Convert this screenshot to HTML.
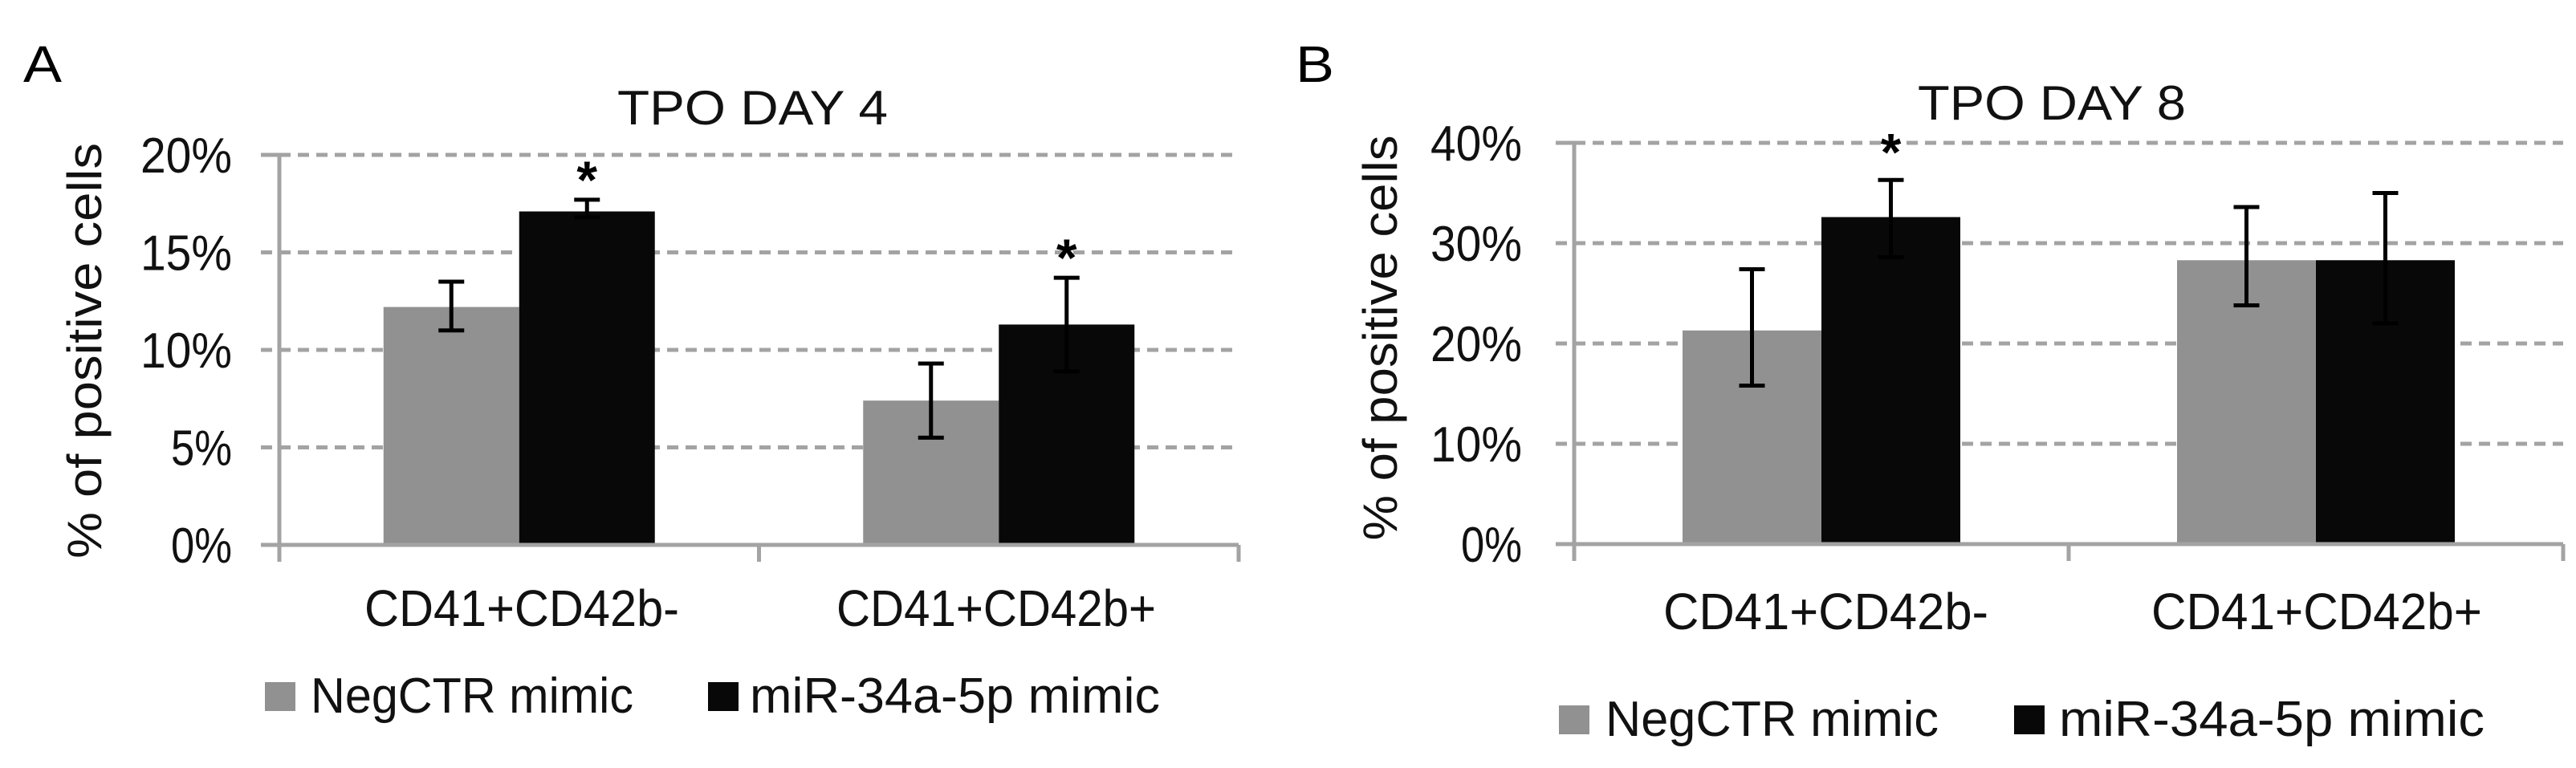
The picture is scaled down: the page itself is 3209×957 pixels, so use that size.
<!DOCTYPE html>
<html><head><meta charset="utf-8"><style>
html,body{margin:0;padding:0;background:#fff;}
svg{display:block;font-family:"Liberation Sans",sans-serif;}
</style></head><body>
<svg id="fig" width="3209" height="957" viewBox="0 0 3209 957" xmlns="http://www.w3.org/2000/svg">
<rect width="3209" height="957" fill="#fff"/>
</svg>
<script>
// Panel A data
const categories = ["CD41+CD42b-", "CD41+CD42b+"];
const seriesNames = ["NegCTR mimic", "miR-34a-5p mimic"];
const dayA_neg = [12.2, 7.4];
const dayA_neg_lo = [11.0, 5.5];
const dayA_neg_hi = [13.5, 9.3];
const dayA_mir = [17.1, 11.3];
const dayA_mir_lo = [16.8, 8.9];
const dayA_mir_hi = [17.7, 13.7];
const dayA_ticks = [0, 5, 10, 15, 20];
const dayA_tickLabels = ["0%", "5%", "10%", "15%", "20%"];
const dayA_sig = [true, true];
// Panel B data
const dayB_neg = [21.3, 28.3];
const dayB_neg_lo = [15.8, 23.8];
const dayB_neg_hi = [27.4, 33.6];
const dayB_mir = [32.6, 28.3];
const dayB_mir_lo = [28.6, 22.0];
const dayB_mir_hi = [36.3, 35.0];
const dayB_ticks = [0, 10, 20, 30, 40];
const dayB_tickLabels = ["0%", "10%", "20%", "30%", "40%"];
const dayB_sig = [true, false];

const svg = document.getElementById('fig');
const NS = "http://www.w3.org/2000/svg";
function mk(tag, attrs, parent) {
  const e = document.createElementNS(NS, tag);
  for (const k in attrs) e.setAttribute(k, attrs[k]);
  (parent || svg).appendChild(e);
  return e;
}
function txt(str, attrs, parent) { const t = mk('text', attrs, parent); t.textContent = str; return t; }

function panel(cfg) {
  const g = mk('g', {});
  
  
  const yMax = cfg.ticks[cfg.ticks.length - 1];
  const y = v => cfg.y0 - (v / yMax) * (cfg.y0 - cfg.yTop);
  const catW = (cfg.xR - cfg.x0) / categories.length;
  const xc = i => cfg.x0 + catW * (i + 0.5);
  cfg.ticks.forEach((t, i) => {
    if (t !== 0) {
      const l = mk('line', {x1: cfg.x0 - 23, x2: cfg.xR, y1: y(t), y2: y(t), stroke: '#a3a3a3', 'stroke-width': 5, 'stroke-dasharray': '14 9'}, g);
      
      
    }
    const lbl = cfg.tickLabels[i];
    const tl = txt(lbl, {x: cfg.tickRight, y: y(t) + 22, 'text-anchor': 'end', 'font-size': 62, fill: '#111', textLength: lbl.length * 38, lengthAdjust: 'spacingAndGlyphs'}, g);
    
    
  });
  const bw = cfg.bw;
  const series = [
    {v: cfg.neg, lo: cfg.negLo, hi: cfg.negHi, c: '#919191', off: -1},
    {v: cfg.mir, lo: cfg.mirLo, hi: cfg.mirHi, c: '#080808', off: 0}
  ];
  series.forEach((s, si) => {
    s.v.forEach((v, i) => {
      const bx = xc(i) + s.off * bw;
      const r = mk('rect', {x: bx, y: y(v), width: bw, height: cfg.y0 - y(v), fill: s.c}, g);
      
      
    });
  });
  series.forEach((s, si) => {
    s.v.forEach((v, i) => {
      const cx = xc(i) + s.off * bw + bw / 2;
      const eg = mk('g', {stroke: '#000', 'stroke-width': 5}, g);
      
      
      mk('line', {x1: cx, x2: cx, y1: y(s.lo[i]), y2: y(s.hi[i])}, eg);
      mk('line', {x1: cx - 16, x2: cx + 16, y1: y(s.lo[i]), y2: y(s.lo[i])}, eg);
      mk('line', {x1: cx - 16, x2: cx + 16, y1: y(s.hi[i]), y2: y(s.hi[i])}, eg);
      if (si === 1 && cfg.sig[i]) {
        const st = txt('*', {x: cx, y: y(s.hi[i]) - cfg.starGap + 32, 'text-anchor': 'middle', 'font-size': 66, fill: '#000', 'font-weight': 'bold'}, g);
        
        
      }
    });
  });
  const ax = mk('g', {stroke: '#a3a3a3', 'stroke-width': 5}, g);
  
  
  mk('line', {x1: cfg.x0, x2: cfg.x0, y1: cfg.yTop - 2, y2: cfg.y0 + 21}, ax);
  mk('line', {x1: cfg.x0 - 23, x2: cfg.xR, y1: cfg.y0, y2: cfg.y0}, ax);
  mk('line', {x1: cfg.x0 - 23, x2: cfg.x0, y1: cfg.yTop, y2: cfg.yTop}, ax);
  for (let i = 1; i <= categories.length; i++) {
    const tx = cfg.x0 + catW * i;
    mk('line', {x1: tx, x2: tx, y1: cfg.y0, y2: cfg.y0 + 21}, ax);
  }
  categories.forEach((c, i) => {
    const t = txt(c, {x: cfg.catX[i], y: cfg.catY, 'font-size': 64, fill: '#111', textLength: cfg.catW[i], lengthAdjust: 'spacingAndGlyphs'}, g);
    
    
  });
  const ti = txt(cfg.title, {x: cfg.titleX, y: cfg.titleY, 'font-size': 60, fill: '#111', textLength: cfg.titleW, lengthAdjust: 'spacingAndGlyphs'}, g);
  
  
  const yl = txt('% of positive cells', {x: 0, y: 0, 'text-anchor': 'middle', 'font-size': 60, fill: '#111', textLength: cfg.ylLen, lengthAdjust: 'spacingAndGlyphs', transform: `translate(${cfg.ylX},${cfg.ylY}) rotate(-90)`}, g);
  
  
  const pl = txt(cfg.letter, {x: cfg.letterX, y: 102, 'font-size': 64, fill: '#000', textLength: 48, lengthAdjust: 'spacingAndGlyphs'}, g);
  
  
  const lg = mk('g', {}, g);
  
  
  const cols = ['#919191', '#080808'];
  seriesNames.forEach((n, i) => {
    const e = mk('g', {}, lg);
    
    
    mk('rect', {x: cfg.legSq[i], y: cfg.legY - 18, width: 38, height: 36, fill: cols[i]}, e);
    txt(n, {x: cfg.legTx[i], y: cfg.legY + 20, 'font-size': 62, fill: '#111', textLength: cfg.legTw[i], lengthAdjust: 'spacingAndGlyphs'}, e);
  });
}

panel({
  name: 'panel-a-chart', letter: 'A', letterX: 29,
  x0: 348, xR: 1543, y0: 679, yTop: 193, bw: 169,
  ticks: dayA_ticks, tickLabels: dayA_tickLabels, tickRight: 289,
  neg: dayA_neg, negLo: dayA_neg_lo, negHi: dayA_neg_hi,
  mir: dayA_mir, mirLo: dayA_mir_lo, mirHi: dayA_mir_hi, sig: dayA_sig, starGap: 34,
  catX: [454, 1042], catW: [392, 398], catY: 780,
  title: 'TPO DAY 4', titleX: 769, titleY: 155, titleW: 337,
  ylX: 126, ylY: 437, ylLen: 518,
  legSq: [330, 882], legTx: [387, 934], legTw: [402, 511], legY: 868
});
panel({
  name: 'panel-b-chart', letter: 'B', letterX: 1614,
  x0: 1961, xR: 3193, y0: 678, yTop: 178, bw: 173,
  ticks: dayB_ticks, tickLabels: dayB_tickLabels, tickRight: 1896,
  neg: dayB_neg, negLo: dayB_neg_lo, negHi: dayB_neg_hi,
  mir: dayB_mir, mirLo: dayB_mir_lo, mirHi: dayB_mir_hi, sig: dayB_sig, starGap: 44,
  catX: [2072, 2680], catW: [405, 412], catY: 784,
  title: 'TPO DAY 8', titleX: 2389, titleY: 149, titleW: 334,
  ylX: 1740, ylY: 421, ylLen: 505,
  legSq: [1942, 2509], legTx: [2000, 2565], legTw: [415, 530], legY: 897
});
</script>
</body></html>
